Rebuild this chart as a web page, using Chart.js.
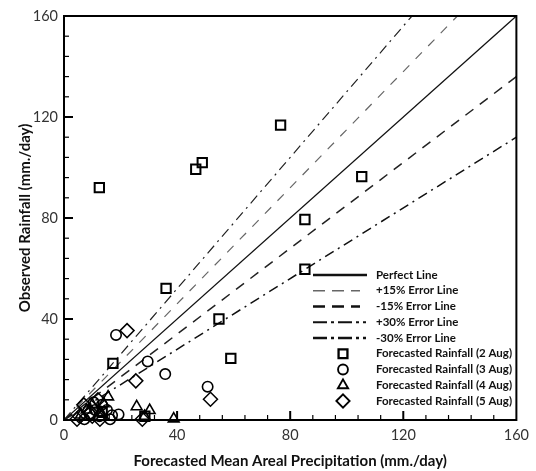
<!DOCTYPE html>
<html><head><meta charset="utf-8">
<script src="https://cdn.jsdelivr.net/npm/chart.js@4/dist/chart.umd.min.js"></script>
<style>html,body{margin:0;padding:0;background:#fff}#wrap{width:536px;height:471px}</style>
</head><body><div id="wrap"><canvas id="c" width="536" height="471"></canvas></div>
<script>
// ---- data ----
const axisMin = 0, axisMax = 160;
const tickLabels = [0, 40, 80, 120, 160];
const minorStep = 8;
const refLineNames = ['Perfect Line', '+15% Error Line', '-15% Error Line', '+30% Error Line', '-30% Error Line'];
const refLineFactors = [1, 1.15, 0.85, 1.3, 0.7];
const seriesNames = ['Forecasted Rainfall (2 Aug)', 'Forecasted Rainfall (3 Aug)', 'Forecasted Rainfall (4 Aug)', 'Forecasted Rainfall (5 Aug)'];
const aug2X = [12.5, 46.6, 48.9, 76.6, 105.3, 85.2, 85.2, 36.1, 54.8, 59.0, 17.3, 13.5, 28.6];
const aug2Y = [92.0, 99.3, 101.9, 116.8, 96.4, 79.4, 59.7, 52.1, 40.0, 24.4, 22.4, 3.0, 1.5];
const aug3X = [18.4, 29.6, 35.8, 50.8, 19.3, 16.3, 7.2, 13.4, 11.0, 9.0, 15.2, 10.5, 12.5, 17.0];
const aug3Y = [33.7, 23.2, 18.2, 13.2, 2.2, 0.3, 0.3, 6.0, 4.0, 2.5, 4.0, 7.0, 1.5, 1.9];
const aug4X = [38.8, 30.3, 25.7, 28.5, 15.6, 10.0, 8.0, 13.0, 6.0, 14.0];
const aug4Y = [0.5, 3.8, 5.3, 1.5, 9.2, 6.0, 4.0, 3.0, 2.0, 6.5];
const aug5X = [22.3, 25.4, 51.8, 4.6, 12.7, 27.7, 9.5, 7.0, 12.0, 5.5, 10.0];
const aug5Y = [35.4, 15.5, 8.2, 0.3, 0.3, 0.3, 3.0, 6.0, 8.0, 1.5, 1.5];

// ---- styles ----
const refStyles = [
  {color: '#111', width: 1.3, dash: [], lw: 2.6, ldash: [], lend: 7},
  {color: '#666', width: 1.2, dash: [9, 9], lw: 1.6, ldash: [12, 7], lend: 0},
  {color: '#222', width: 1.5, dash: [10, 8], lw: 2.6, ldash: [12, 7], lend: 0},
  {color: '#222', width: 1.2, dash: [10, 5, 2, 5], lw: 2.0, ldash: [14, 4, 3, 4], lend: 6},
  {color: '#111', width: 1.5, dash: [10, 5, 2, 5], lw: 2.6, ldash: [14, 4, 3, 4], lend: 6}
];
const markerStyles = [
  {shape: 'rect', r: 6.6, w: 2.0},
  {shape: 'circle', r: 5.2, w: 1.6},
  {shape: 'triangle', r: 6.2, w: 1.6},
  {shape: 'rectRot', r: 7.0, w: 1.5}
];

const zip = (xs, ys) => xs.map((x, i) => ({x: x, y: ys[i]}));
const datasets = [];
refLineFactors.forEach((f, i) => {
  const endX = Math.min(axisMax, axisMax / f);
  const st = refStyles[i];
  datasets.push({
    type: 'line', label: refLineNames[i],
    data: [{x: axisMin, y: axisMin}, {x: endX, y: endX * f}],
    borderColor: st.color, borderWidth: st.width, borderDash: st.dash,
    pointRadius: 0, fill: false, tension: 0, order: 2
  });
});
[[aug2X, aug2Y], [aug3X, aug3Y], [aug4X, aug4Y], [aug5X, aug5Y]].forEach((s, i) => {
  const m = markerStyles[i];
  datasets.push({
    type: 'scatter', label: seriesNames[i], data: zip(s[0], s[1]),
    pointStyle: m.shape, pointRadius: m.r, pointHoverRadius: m.r,
    pointBorderWidth: m.w, borderColor: '#000', backgroundColor: 'rgba(0,0,0,0)',
    clip: false, order: 1
  });
});

const framePlugin = {
  id: 'frameTicks',
  afterDraw(chart) {
    const {ctx, chartArea: a} = chart;
    const xs = chart.scales.x, ys = chart.scales.y;
    ctx.save();
    ctx.strokeStyle = '#000';
    for (let v = axisMin + minorStep; v < axisMax; v += minorStep) {
      const major = tickLabels.includes(v);
      const len = major ? 9 : 5;
      ctx.lineWidth = major ? 2 : 1.2;
      const px = xs.getPixelForValue(v);
      ctx.beginPath(); ctx.moveTo(px, a.bottom); ctx.lineTo(px, a.bottom - len); ctx.stroke();
      const py = ys.getPixelForValue(v);
      ctx.beginPath(); ctx.moveTo(a.left, py); ctx.lineTo(a.left + len, py); ctx.stroke();
    }
    ctx.lineWidth = 2;
    ctx.strokeRect(a.left, a.top, a.right - a.left, a.bottom - a.top);

    // legend
    const lx0 = a.left + 249, lx1 = a.left + 296, tx = a.left + 312;
    let ly = 275;
    const rowH = 15.75;
    ctx.font = 'bold 11.5px Lato';
    ctx.textBaseline = 'middle';
    ctx.fillStyle = '#111';
    refStyles.forEach((st, i) => {
      ctx.strokeStyle = i === 1 ? '#666' : '#111';
      ctx.lineWidth = st.lw;
      ctx.setLineDash(st.ldash);
      ctx.beginPath();
      ctx.moveTo(lx0, ly); ctx.lineTo(lx1 + st.lend, ly); ctx.stroke();
      ctx.setLineDash([]);
      ctx.fillText(refLineNames[i], tx, ly);
      ly += rowH;
    });
    markerStyles.forEach((m, i) => {
      ctx.strokeStyle = '#000';
      ctx.fillStyle = 'rgba(0,0,0,0)';
      ctx.lineWidth = m.w + 0.3;
      Chart.helpers.drawPoint(ctx, {pointStyle: m.shape, radius: m.r * 0.95, borderWidth: m.w + 0.3, rotation: 0}, a.left + 279, ly);
      ctx.fillStyle = '#111';
      ctx.fillText(seriesNames[i], tx, ly);
      ly += rowH;
    });
    ctx.restore();
  }
};

new Chart(document.getElementById('c'), {
  data: {datasets: datasets},
  options: {
    responsive: false, devicePixelRatio: 1, animation: false,
    layout: {padding: {top: 16, right: 19, left: 0, bottom: 0}},
    plugins: {legend: {display: false}, tooltip: {enabled: false}},
    scales: {
      x: {
        type: 'linear', min: axisMin, max: axisMax,
        afterFit: s => { s.height = 51; },
        grid: {display: false, drawTicks: false}, border: {display: false},
        ticks: {stepSize: 40, autoSkip: false, padding: 7, color: '#333', font: {family: 'Lato', size: 14.5},
          callback: v => tickLabels.includes(v) ? String(v) : ''},
        title: {display: true, text: 'Forecasted Mean Areal Precipitation (mm./day)', color: '#111',
          font: {family: 'Lato', size: 15, weight: 'bold'}, padding: {top: 0, bottom: 1}}
      },
      y: {
        type: 'linear', min: axisMin, max: axisMax,
        afterFit: s => { s.width = 64; },
        grid: {display: false, drawTicks: false}, border: {display: false},
        ticks: {stepSize: 40, autoSkip: false, padding: 6, color: '#333', font: {family: 'Lato', size: 14.5},
          callback: v => tickLabels.includes(v) ? String(v) : ''},
        title: {display: true, text: 'Observed Rainfall (mm./day)', color: '#111',
          font: {family: 'Lato', size: 15, weight: 'bold'}, padding: {top: 16, bottom: 0}}
      }
    }
  },
  plugins: [framePlugin]
});
</script>
</body></html>
